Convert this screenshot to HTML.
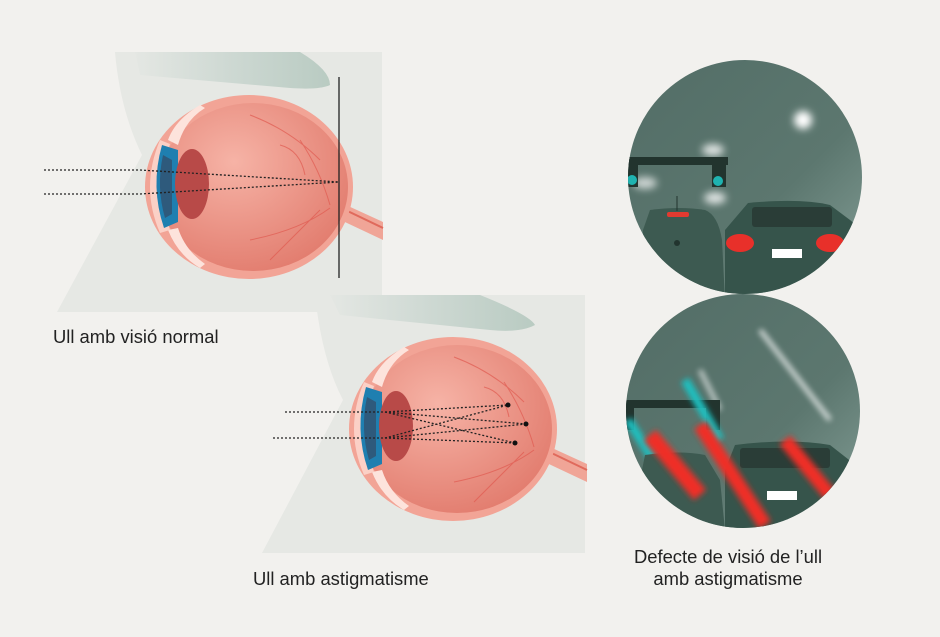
<!DOCTYPE html>
<html><head><meta charset="utf-8"><style>
body{margin:0;background:#f2f1ee;}
svg{display:block}
text{font-family:"Liberation Sans",sans-serif;fill:#222;font-size:18.4px}
</style></head><body>
<svg width="940" height="637" viewBox="0 0 940 637" xmlns="http://www.w3.org/2000/svg">
<defs>
<radialGradient id="eyeg" cx="0.4" cy="0.35" r="0.7">
<stop offset="0" stop-color="#f6b3a6"/><stop offset="1" stop-color="#e27c6e"/></radialGradient>
<linearGradient id="fog" x1="0" y1="0" x2="1" y2="1">
<stop offset="0" stop-color="#526d66"/><stop offset="0.6" stop-color="#5c776f"/><stop offset="1" stop-color="#8aa49c"/></linearGradient>
<linearGradient id="brow" x1="0" y1="0" x2="1" y2="0">
<stop offset="0" stop-color="#e4e7e3"/><stop offset="0.5" stop-color="#cdd8d2"/><stop offset="1" stop-color="#b9cbc2"/></linearGradient>
<filter id="bl" x="-100%" y="-100%" width="300%" height="300%"><feGaussianBlur stdDeviation="4"/></filter>
<filter id="bl2" x="-50%" y="-50%" width="200%" height="200%"><feGaussianBlur stdDeviation="3"/></filter>
<clipPath id="c1"><circle cx="745" cy="177" r="117"/></clipPath>
<clipPath id="c2"><circle cx="743" cy="411" r="117"/></clipPath>
<g id="eye">
<path d="M335,200 L383,222 L383,240 L330,215 Z" fill="#f0a597"/>
<path d="M335,205 L383,228" stroke="#e06a5c" stroke-width="2"/>
<ellipse cx="249" cy="187" rx="104" ry="92" fill="#f2a496"/>
<ellipse cx="253" cy="187" rx="95" ry="84" fill="url(#eyeg)"/>
<path d="M200,105 Q175,120 168,140 L178,145 Q185,120 205,108 Z" fill="#fde3dc"/>
<path d="M168,230 Q178,255 200,268 L205,264 Q185,250 178,228 Z" fill="#fde3dc"/>
<path d="M160,140 Q140,187 160,233 L170,230 Q155,187 170,144 Z" fill="#fbd0c6"/>
<path d="M162,145 Q150,187 164,228 L178,222 L178,150 Z" fill="#1f7fb0"/>
<path d="M163,155 Q156,187 165,218 L172,214 L172,160 Z" fill="#2e5a7c"/>
<ellipse cx="192" cy="184" rx="17" ry="35" fill="#b84a48"/>
<path d="M250,115 Q290,130 320,160 M300,140 Q320,170 330,205 M320,210 Q290,240 270,260 M330,208 Q300,230 250,240 M280,145 Q300,150 305,175" stroke="#e05a50" stroke-width="1" fill="none" opacity="0.7"/>
</g>
</defs>

<!-- panel 1 -->
<path d="M115,52 Q120,110 142,155 L57,312 L382,312 L382,52 Z" fill="#e6e8e4"/>
<path d="M135,52 L300,52 Q330,70 330,85 Q320,90 290,88 L140,75 Z" fill="url(#brow)"/>
<use href="#eye"/>
<line x1="339" y1="77" x2="339" y2="278" stroke="#222" stroke-width="1.3"/>
<g stroke="#222" stroke-width="1.3" stroke-dasharray="2,2" fill="none">
<line x1="44" y1="170" x2="140" y2="170"/><line x1="140" y1="170" x2="339" y2="182"/>
<line x1="44" y1="194" x2="140" y2="194"/><line x1="140" y1="194" x2="339" y2="182"/>
</g>

<!-- panel 2 -->
<path d="M315,295 Q322,360 343,400 L262,553 L585,553 L585,295 Z" fill="#e6e8e4"/>
<path d="M330,295 L480,295 Q530,315 535,325 Q520,333 490,330 L340,315 Z" fill="url(#brow)"/>
<use href="#eye" transform="translate(204,242)"/>
<g stroke="#222" stroke-width="1.3" stroke-dasharray="2,2" fill="none">
<line x1="285" y1="412" x2="385" y2="412"/><line x1="385" y1="412" x2="508" y2="405"/>
<line x1="385" y1="412" x2="526" y2="424"/><line x1="385" y1="412" x2="515" y2="443"/>
<line x1="273" y1="438" x2="385" y2="438"/><line x1="385" y1="438" x2="508" y2="405"/>
<line x1="385" y1="438" x2="526" y2="424"/><line x1="385" y1="438" x2="515" y2="443"/>
</g>
<circle cx="508" cy="405" r="2.5" fill="#111"/><circle cx="526" cy="424" r="2.5" fill="#111"/><circle cx="515" cy="443" r="2.5" fill="#111"/>

<!-- circle 1 -->
<g clip-path="url(#c1)">
<rect x="620" y="55" width="250" height="250" fill="url(#fog)"/>
<circle cx="803" cy="120" r="9" fill="#fff" filter="url(#bl)"/>
<ellipse cx="713" cy="150" rx="11" ry="6" fill="#fff" filter="url(#bl)" opacity="0.8"/>
<ellipse cx="645" cy="183" rx="12" ry="6" fill="#fff" filter="url(#bl)" opacity="0.7"/>
<ellipse cx="715" cy="198" rx="11" ry="6" fill="#fff" filter="url(#bl)" opacity="0.8"/>
<rect x="628" y="157" width="100" height="8" fill="#22342e"/>
<rect x="628" y="157" width="10" height="30" fill="#22342e"/><rect x="712" y="157" width="14" height="30" fill="#22342e"/>
<circle cx="632" cy="180" r="5" fill="#1fb3b0"/><circle cx="718" cy="181" r="5" fill="#1fb3b0"/>
<path d="M650,210 Q680,206 705,210 Q718,215 722,240 L725,300 L640,300 L643,230 Z" fill="#3d5a51"/>
<rect x="667" y="212" width="22" height="5" rx="2" fill="#e23a30"/>
<line x1="677" y1="196" x2="677" y2="211" stroke="#22342e"/>
<circle cx="677" cy="243" r="3" fill="#22342e"/>
<path d="M748,203 Q800,198 830,205 L850,220 L862,230 L862,300 L725,300 L725,230 Z" fill="#36544b"/>
<rect x="752" y="207" width="80" height="20" rx="3" fill="#2a3d37"/>
<ellipse cx="740" cy="243" rx="14" ry="9" fill="#e8302a"/><ellipse cx="830" cy="243" rx="14" ry="9" fill="#e8302a"/>
<rect x="772" y="249" width="30" height="9" fill="#fff"/>
</g>

<!-- circle 2 -->
<g clip-path="url(#c2)">
<rect x="620" y="290" width="250" height="250" fill="url(#fog)"/>
<line x1="760" y1="330" x2="830" y2="420" stroke="#fff" stroke-width="5" filter="url(#bl2)" opacity="0.7"/>
<line x1="700" y1="370" x2="720" y2="410" stroke="#fff" stroke-width="5" filter="url(#bl2)" opacity="0.6"/>
<rect x="624" y="400" width="96" height="8" fill="#22342e"/>
<rect x="624" y="400" width="10" height="30" fill="#22342e"/><rect x="706" y="400" width="14" height="30" fill="#22342e"/>
<line x1="685" y1="380" x2="720" y2="440" stroke="#1fc0c0" stroke-width="9" filter="url(#bl2)"/>
<line x1="628" y1="420" x2="660" y2="470" stroke="#1fc0c0" stroke-width="9" filter="url(#bl2)"/>
<path d="M645,455 Q680,450 705,455 L720,480 L725,530 L630,530 Z" fill="#3d5a51"/>
<path d="M735,445 Q790,438 830,445 L862,470 L862,540 L725,540 L725,470 Z" fill="#36544b"/>
<rect x="740" y="448" width="90" height="20" rx="3" fill="#2a3d37"/>
<line x1="650" y1="435" x2="700" y2="495" stroke="#ef2d28" stroke-width="16" filter="url(#bl2)"/>
<line x1="700" y1="425" x2="765" y2="525" stroke="#ef2d28" stroke-width="14" filter="url(#bl2)"/>
<line x1="785" y1="440" x2="830" y2="495" stroke="#ef2d28" stroke-width="14" filter="url(#bl2)"/>
<rect x="767" y="491" width="30" height="9" fill="#fff"/>
</g>

<text x="53" y="343">Ull amb visió normal</text>
<text x="253" y="585">Ull amb astigmatisme</text>
<text x="728" y="563" text-anchor="middle">Defecte de visió de l’ull</text>
<text x="728" y="585" text-anchor="middle">amb astigmatisme</text>
</svg>
</body></html>
